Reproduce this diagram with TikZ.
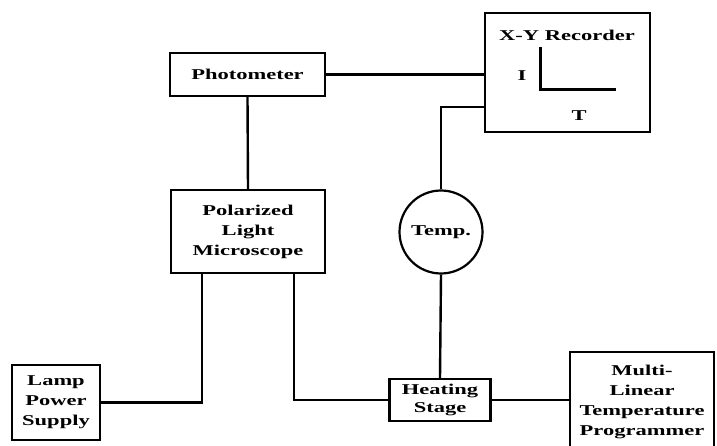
\documentclass[tikz,border=0pt]{standalone}
\usepackage{fontspec}
\setmainfont{Liberation Serif}[FakeStretch=1.5]
\begin{document}
\begin{tikzpicture}[x=1pt,y=-1pt,
  box/.style={draw=black,line width=2.2pt,rectangle,inner sep=0pt,align=center},
  conn/.style={line width=2.4pt,black},
  every node/.style={font=\fontsize{15}{20}\selectfont\bfseries}]
\useasboundingbox (0,0) rectangle (717,446);
\clip (0,0) rectangle (717,446);
% boxes
\node[box,minimum width=155pt,minimum height=43pt] (photo) at (247.5,74.5) {Photometer};
\node[box,minimum width=165pt,minimum height=119pt] (xy) at (567.5,72.5) {};
\node (xytitle) at (567,35) {X-Y Recorder};
\node (ilab) at (522,76) {I};
\node (tlab) at (579,116) {T};
\coordinate (axtop) at (540,47);
\coordinate (axorigin) at (540,90);
\coordinate (axright) at (616,90);
\draw[line width=3pt] (axtop) -- (axorigin) -- (axright);
\node[box,minimum width=154pt,minimum height=83pt] (micro) at (248,231.5) {Polarized\\Light\\Microscope};
\node[draw=black,line width=2.2pt,circle,minimum size=83pt,inner sep=0pt] (temp) at (441,232) {Temp.};
\node[box,minimum width=88pt,minimum height=75pt] (lamp) at (56,402.5) {Lamp\\Power\\Supply};
\node[box,minimum width=101pt,minimum height=42pt,font=\fontsize{15}{17.5}\selectfont\bfseries] (heat) at (440,400) {Heating\\Stage};
\node[box,minimum width=144pt,minimum height=100pt] (multi) at (642,402) {Multi-\\Linear\\Temperature\\Programmer};
% connectors
\draw[conn] (photo.east) -- (photo.east -| xy.west);
\draw[conn] ([yshift=26pt]xy.south west) -| (temp.north);
\draw[conn] (photo.south) -- (micro.north);
\draw[conn] (temp.south) -- (heat.north);
\draw[conn] ([xshift=32pt]micro.south west) |- (lamp.east);
\draw[conn] ([xshift=-32pt]micro.south east) |- (heat.west);
\draw[conn] (heat.east) -- (heat.east -| multi.west);
\end{tikzpicture}
\end{document}
